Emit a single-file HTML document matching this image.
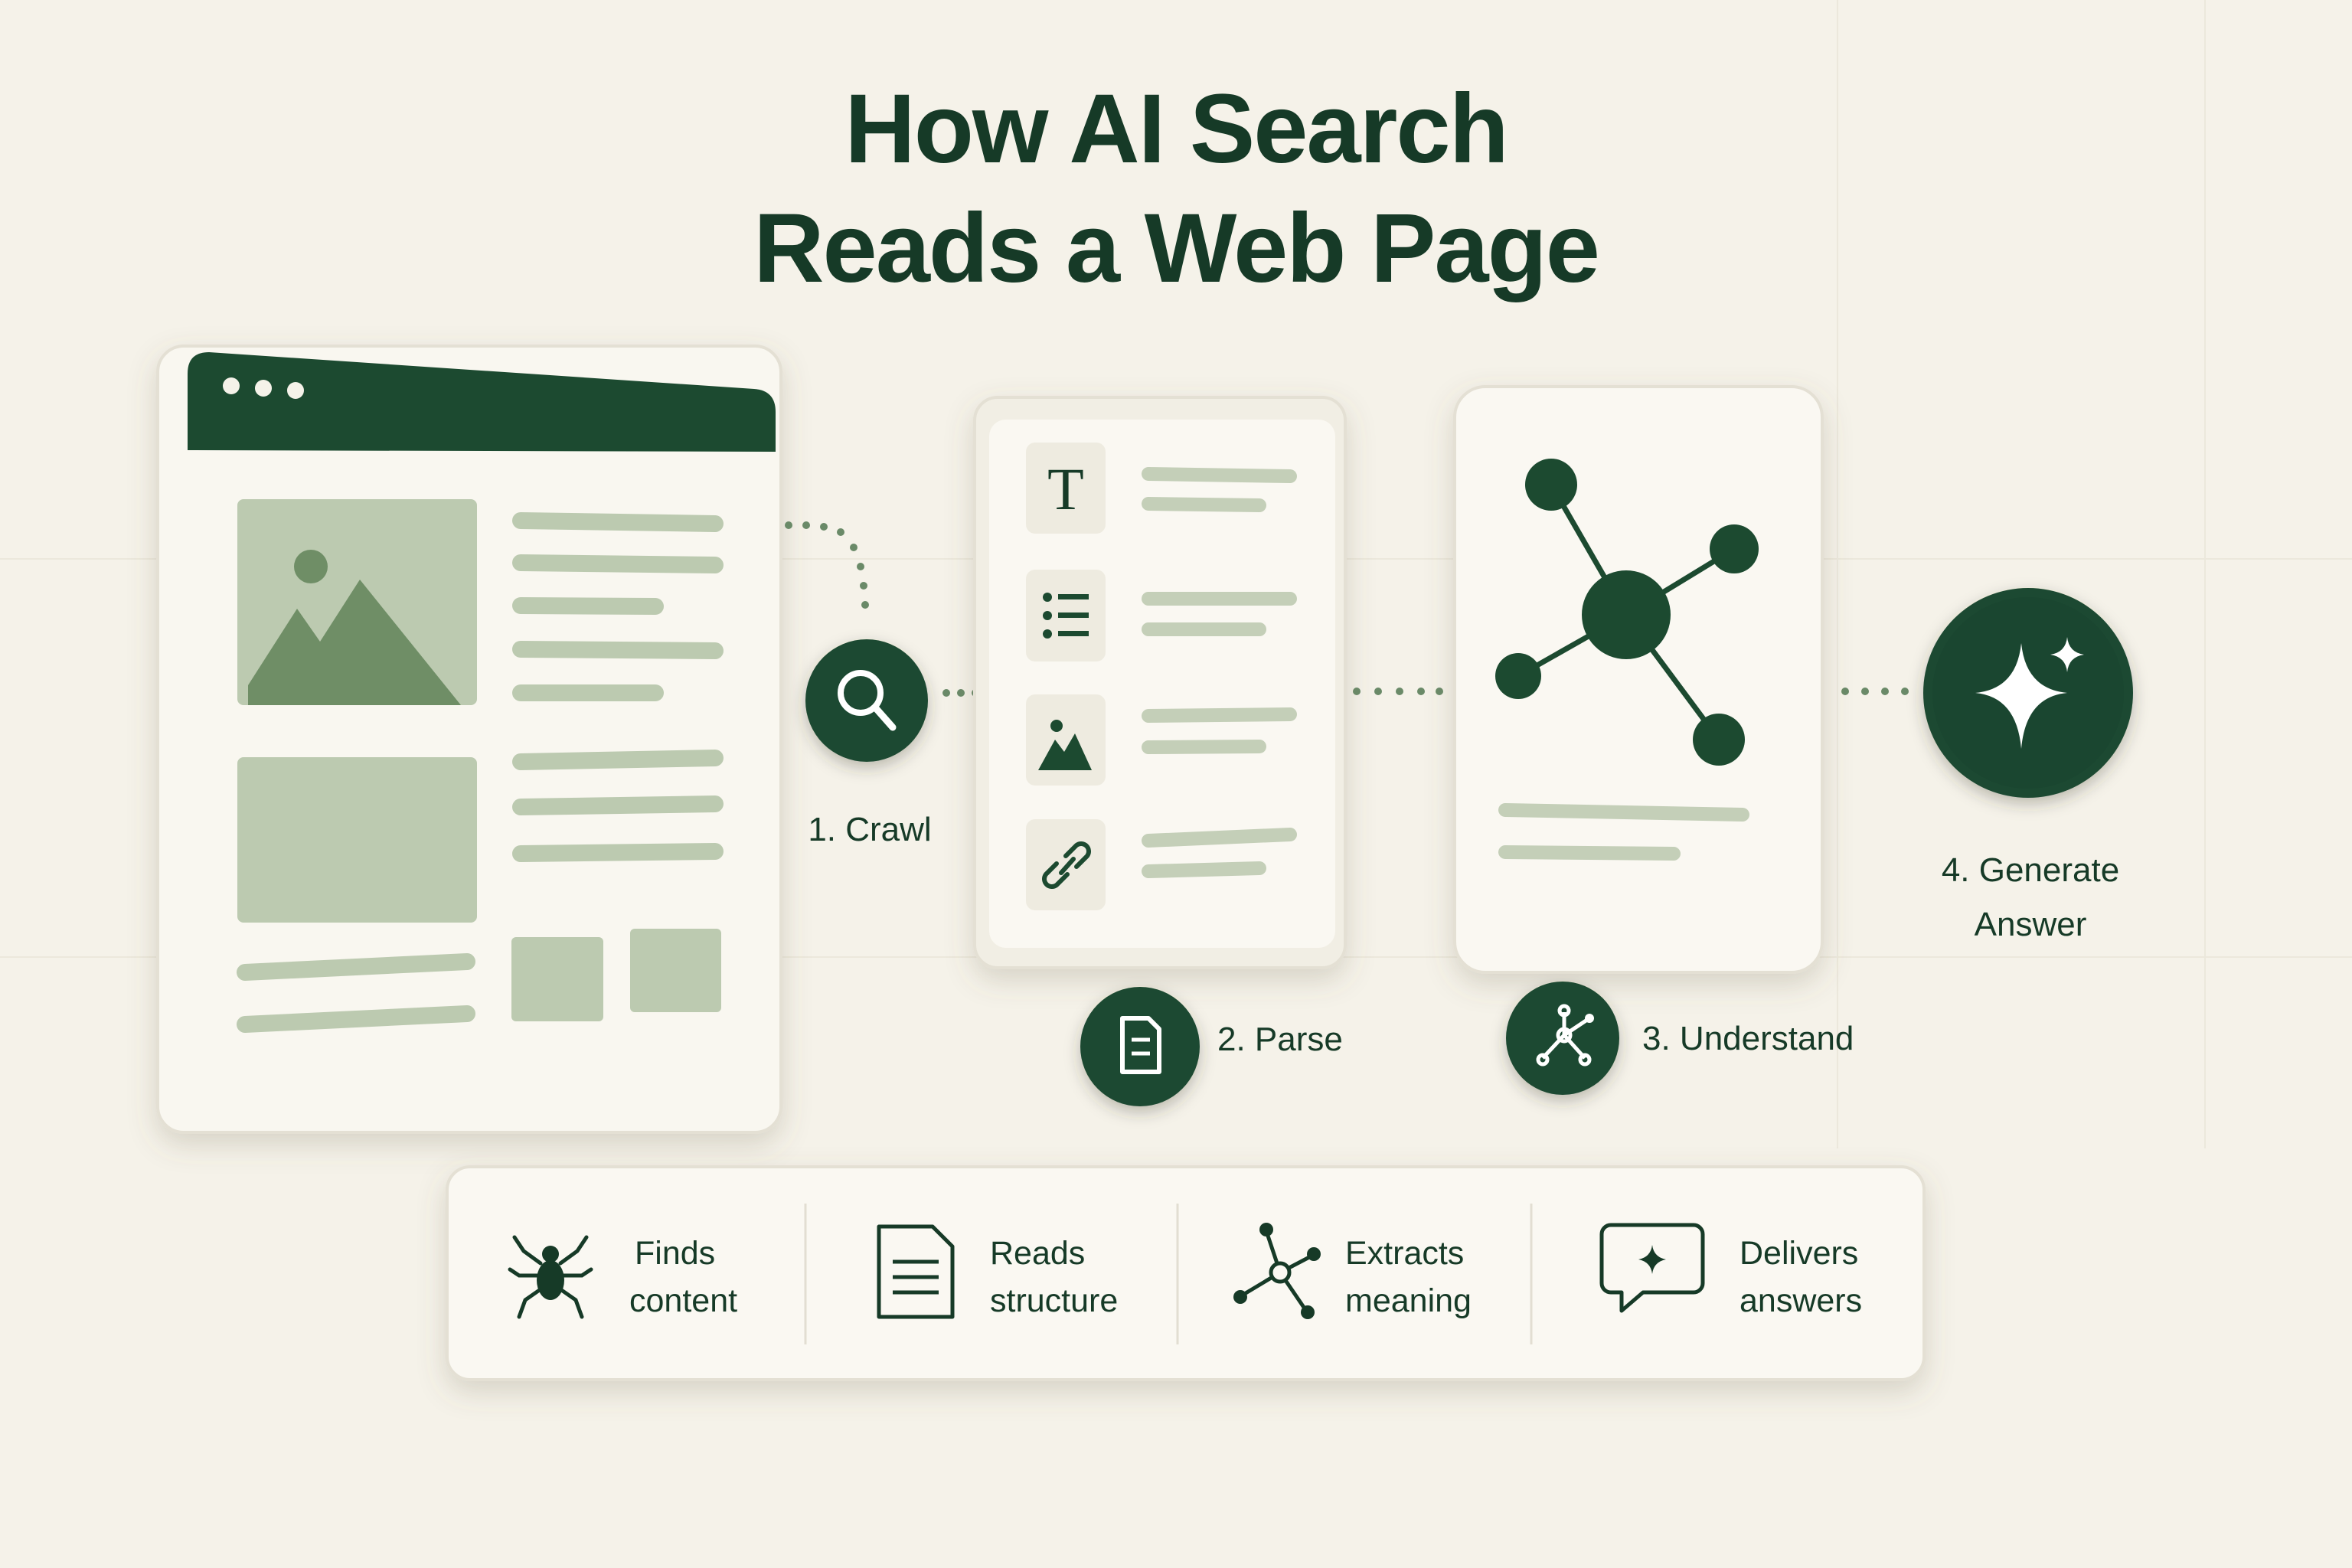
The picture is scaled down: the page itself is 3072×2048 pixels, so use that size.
<!DOCTYPE html>
<html><head><meta charset="utf-8"><style>
html,body{margin:0;padding:0;background:#f5f2e9;}
svg{display:block}
text{font-family:"Liberation Sans",sans-serif;fill:#163a27}
</style></head><body>
<svg width="3072" height="2048" viewBox="0 0 3072 2048" xmlns="http://www.w3.org/2000/svg">
<defs>
<filter id="sh" x="-20%" y="-20%" width="140%" height="140%"><feDropShadow dx="0" dy="14" stdDeviation="18" flood-color="#6b6550" flood-opacity="0.22"/></filter>
<filter id="sh2" x="-30%" y="-30%" width="160%" height="160%"><feDropShadow dx="0" dy="8" stdDeviation="10" flood-color="#3a3a2a" flood-opacity="0.3"/></filter>
</defs>
<rect width="3072" height="2048" fill="#f5f2e9"/>
<g stroke="#ece8dc" stroke-width="2">
<line x1="0" y1="730" x2="3072" y2="730"/><line x1="0" y1="1250" x2="3072" y2="1250"/>
<line x1="2400" y1="0" x2="2400" y2="1500"/><line x1="2880" y1="0" x2="2880" y2="1500"/>
</g>
<!-- title -->
<text x="1536" y="212" font-size="128" font-weight="bold" text-anchor="middle" letter-spacing="-2">How AI Search</text>
<text x="1536" y="368" font-size="128" font-weight="bold" text-anchor="middle" letter-spacing="-2">Reads a Web Page</text>

<!-- browser window -->
<rect x="206" y="452" width="814" height="1027" rx="34" fill="#f9f7f0" stroke="#e4e0d4" stroke-width="4" filter="url(#sh)"/>
<path d="M245 488 Q245 460 273 460 L985 508 Q1013 510 1013 538 L1013 590 L245 588 Z" fill="#1c4a30"/>
<circle cx="302" cy="504" r="11" fill="#f5f2e9"/><circle cx="344" cy="507" r="11" fill="#f5f2e9"/><circle cx="386" cy="510" r="11" fill="#f5f2e9"/>
<g fill="#bccab0">
<rect x="310" y="652" width="313" height="269" rx="8"/>
<rect x="310" y="989" width="313" height="216" rx="8"/>
<rect x="668" y="1224" width="120" height="110" rx="6"/>
<rect x="823" y="1213" width="119" height="109" rx="6"/>
</g>
<circle cx="406" cy="740" r="22" fill="#6f8e66"/>
<path d="M324 921 L324 895 L388 795 L418 838 L470 757 L602 921 Z" fill="#6f8e66"/>
<g stroke="#bccab0" stroke-width="22" stroke-linecap="round">
<line x1="680" y1="680" x2="934" y2="684"/><line x1="680" y1="735" x2="934" y2="738"/>
<line x1="680" y1="791" x2="856" y2="792"/><line x1="680" y1="848" x2="934" y2="850"/>
<line x1="680" y1="905" x2="856" y2="905"/>
<line x1="680" y1="995" x2="934" y2="990"/><line x1="680" y1="1054" x2="934" y2="1050"/><line x1="680" y1="1115" x2="934" y2="1112"/>
<line x1="320" y1="1270" x2="610" y2="1256"/><line x1="320" y1="1338" x2="610" y2="1324"/>
</g>

<!-- dotted connectors -->
<g fill="#6a8a68">
<circle cx="1030" cy="686" r="5"/><circle cx="1053" cy="686" r="5"/><circle cx="1076" cy="688" r="5"/><circle cx="1098" cy="695" r="5"/><circle cx="1115" cy="715" r="5"/><circle cx="1124" cy="740" r="5"/><circle cx="1128" cy="765" r="5"/><circle cx="1130" cy="790" r="5"/>
<circle cx="1236" cy="905" r="5"/><circle cx="1255" cy="905" r="5"/><circle cx="1274" cy="905" r="5"/>
<circle cx="1772" cy="903" r="5"/><circle cx="1800" cy="903" r="5"/><circle cx="1828" cy="903" r="5"/><circle cx="1856" cy="903" r="5"/><circle cx="1880" cy="903" r="5"/>
<circle cx="2410" cy="903" r="5"/><circle cx="2436" cy="903" r="5"/><circle cx="2462" cy="903" r="5"/><circle cx="2488" cy="903" r="5"/>
</g>

<!-- crawl -->
<circle cx="1132" cy="915" r="80" fill="#1c4a30" filter="url(#sh2)"/>
<circle cx="1124" cy="905" r="26" fill="none" stroke="#fff" stroke-width="8"/>
<line x1="1143" y1="924" x2="1166" y2="950" stroke="#fff" stroke-width="9" stroke-linecap="round"/>
<text x="1136" y="1098" font-size="44" text-anchor="middle">1. Crawl</text>

<!-- parse card -->
<rect x="1273" y="519" width="484" height="745" rx="30" fill="#f1eee4" stroke="#e4e0d4" stroke-width="4" filter="url(#sh)"/>
<rect x="1292" y="548" width="452" height="690" rx="22" fill="#faf8f2"/>
<g fill="#eeebe0">
<rect x="1340" y="578" width="104" height="119" rx="12"/><rect x="1340" y="744" width="104" height="120" rx="12"/>
<rect x="1340" y="907" width="104" height="119" rx="12"/><rect x="1340" y="1070" width="104" height="119" rx="12"/>
</g>
<text x="1392" y="665" font-size="78" text-anchor="middle" font-family="Liberation Serif" style="font-family:'Liberation Serif',serif">T</text>
<g fill="#1c4a30"><circle cx="1368" cy="780" r="6"/><circle cx="1368" cy="804" r="6"/><circle cx="1368" cy="828" r="6"/>
<rect x="1382" y="776" width="40" height="7"/><rect x="1382" y="800" width="40" height="7"/><rect x="1382" y="824" width="40" height="7"/>
<circle cx="1380" cy="948" r="8"/><path d="M1356 1006 L1378 966 L1390 982 L1404 958 L1426 1006 Z"/></g>
<g fill="none" stroke="#1c4a30" stroke-width="6" stroke-linecap="round">
<path d="M1392 1118 l14 -14 a10 10 0 0 1 14 14 l-14 14"/><path d="M1394 1142 l-14 14 a10 10 0 0 1 -14 -14 l14 -14"/><line x1="1386" y1="1140" x2="1402" y2="1122"/>
</g>
<g stroke="#c4cfb8" stroke-width="18" stroke-linecap="round">
<line x1="1500" y1="619" x2="1685" y2="622"/><line x1="1500" y1="658" x2="1645" y2="660"/>
<line x1="1500" y1="782" x2="1685" y2="782"/><line x1="1500" y1="822" x2="1645" y2="822"/>
<line x1="1500" y1="935" x2="1685" y2="933"/><line x1="1500" y1="976" x2="1645" y2="975"/>
<line x1="1500" y1="1098" x2="1685" y2="1090"/><line x1="1500" y1="1138" x2="1645" y2="1134"/>
</g>
<circle cx="1489" cy="1367" r="78" fill="#1c4a30" filter="url(#sh2)"/>
<path d="M1466 1330 h34 l14 14 v56 h-48 z" fill="none" stroke="#fff" stroke-width="6" stroke-linejoin="round"/>
<line x1="1478" y1="1358" x2="1502" y2="1358" stroke="#fff" stroke-width="5"/><line x1="1478" y1="1376" x2="1502" y2="1376" stroke="#fff" stroke-width="5"/>
<text x="1590" y="1372" font-size="44">2. Parse</text>

<!-- understand card -->
<rect x="1900" y="505" width="480" height="765" rx="40" fill="#faf8f2" stroke="#e4e0d4" stroke-width="4" filter="url(#sh)"/>
<g stroke="#1c4a30" stroke-width="7">
<line x1="2124" y1="803" x2="2026" y2="633"/><line x1="2124" y1="803" x2="2265" y2="717"/>
<line x1="2124" y1="803" x2="1983" y2="883"/><line x1="2124" y1="803" x2="2245" y2="966"/>
</g>
<g fill="#1c4a30"><circle cx="2124" cy="803" r="58"/><circle cx="2026" cy="633" r="34"/><circle cx="2265" cy="717" r="32"/><circle cx="1983" cy="883" r="30"/><circle cx="2245" cy="966" r="34"/></g>
<g stroke="#c4cfb8" stroke-width="18" stroke-linecap="round">
<line x1="1966" y1="1058" x2="2276" y2="1064"/><line x1="1966" y1="1113" x2="2186" y2="1115"/>
</g>
<circle cx="2041" cy="1356" r="74" fill="#1c4a30" filter="url(#sh2)"/>
<g stroke="#fff" stroke-width="5" fill="none"><line x1="2043" y1="1352" x2="2043" y2="1322"/><line x1="2043" y1="1352" x2="2076" y2="1330"/><line x1="2043" y1="1352" x2="2015" y2="1382"/><line x1="2043" y1="1352" x2="2070" y2="1382"/>
<circle cx="2043" cy="1320" r="6"/><circle cx="2015" cy="1384" r="6"/><circle cx="2070" cy="1384" r="6"/><circle cx="2043" cy="1352" r="8"/></g>
<circle cx="2076" cy="1330" r="6" fill="#fff"/>
<text x="2145" y="1371" font-size="44">3. Understand</text>

<!-- generate -->
<circle cx="2649" cy="905" r="137" fill="#1c4a30" filter="url(#sh2)"/>
<circle cx="2649" cy="905" r="125" fill="#1a4630"/>
<path d="M2640 840 Q2646 900 2700 905 Q2646 910 2640 978 Q2634 910 2580 905 Q2634 900 2640 840 Z" fill="#fff"/>
<path d="M2700 832 Q2702 852 2722 855 Q2702 858 2700 878 Q2698 858 2678 855 Q2698 852 2700 832 Z" fill="#fff"/>
<text x="2652" y="1151" font-size="44" text-anchor="middle">4. Generate</text>
<text x="2652" y="1222" font-size="44" text-anchor="middle">Answer</text>

<!-- bottom panel -->
<rect x="584" y="1524" width="1929" height="278" rx="30" fill="#faf8f2" stroke="#e4e0d4" stroke-width="4" filter="url(#sh)"/>
<g stroke="#e2ded2" stroke-width="3"><line x1="1052" y1="1572" x2="1052" y2="1756"/><line x1="1538" y1="1572" x2="1538" y2="1756"/><line x1="2000" y1="1572" x2="2000" y2="1756"/></g>
<!-- spider -->
<g stroke="#163a27" stroke-width="5" fill="none" stroke-linecap="round">
<path d="M706 1650 l-22 -16 l-12 -18"/><path d="M732 1650 l22 -16 l12 -18"/>
<path d="M704 1666 h-26 l-12 -8"/><path d="M734 1666 h26 l12 -8"/>
<path d="M706 1684 l-20 14 l-8 22"/><path d="M732 1684 l20 14 l8 22"/>
</g>
<ellipse cx="719" cy="1672" rx="18" ry="26" fill="#163a27"/><circle cx="719" cy="1638" r="11" fill="#163a27"/>
<text x="829" y="1651" font-size="43">Finds</text><text x="822" y="1713" font-size="43">content</text>
<!-- doc -->
<path d="M1148 1602 h70 l26 26 v92 h-96 z" fill="none" stroke="#163a27" stroke-width="5" stroke-linejoin="round"/>
<g stroke="#163a27" stroke-width="5"><line x1="1166" y1="1648" x2="1226" y2="1648"/><line x1="1166" y1="1668" x2="1226" y2="1668"/><line x1="1166" y1="1688" x2="1226" y2="1688"/></g>
<text x="1293" y="1651" font-size="43">Reads</text><text x="1293" y="1713" font-size="43">structure</text>
<!-- network -->
<g stroke="#163a27" stroke-width="5"><line x1="1672" y1="1662" x2="1654" y2="1608"/><line x1="1672" y1="1662" x2="1714" y2="1640"/><line x1="1672" y1="1662" x2="1622" y2="1692"/><line x1="1672" y1="1662" x2="1706" y2="1712"/></g>
<g fill="#163a27"><circle cx="1654" cy="1606" r="9"/><circle cx="1716" cy="1638" r="9"/><circle cx="1620" cy="1694" r="9"/><circle cx="1708" cy="1714" r="9"/></g>
<circle cx="1672" cy="1662" r="12" fill="#faf8f2" stroke="#163a27" stroke-width="5"/>
<text x="1757" y="1651" font-size="43">Extracts</text><text x="1757" y="1713" font-size="43">meaning</text>
<!-- chat -->
<path d="M2104 1600 h108 a12 12 0 0 1 12 12 v64 a12 12 0 0 1 -12 12 h-66 l-28 24 v-24 h-14 a12 12 0 0 1 -12 -12 v-64 a12 12 0 0 1 12 -12 z" fill="none" stroke="#163a27" stroke-width="5" stroke-linejoin="round"/>
<path d="M2158 1626 Q2160 1642 2176 1645 Q2160 1648 2158 1664 Q2156 1648 2140 1645 Q2156 1642 2158 1626 Z" fill="#163a27"/>
<text x="2272" y="1651" font-size="43">Delivers</text><text x="2272" y="1713" font-size="43">answers</text>
</svg>
</body></html>
